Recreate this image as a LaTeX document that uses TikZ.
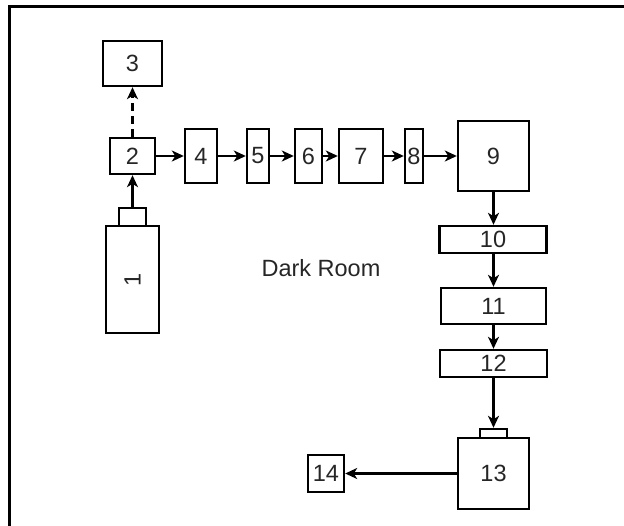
\documentclass[tikz,border=0pt]{standalone}
\usepackage{fontspec}
\setmainfont{Liberation Sans}
\usetikzlibrary{arrows.meta}
\begin{document}
\begin{tikzpicture}[x=1pt,y=-1pt,
  lbl/.style={font=\fontsize{23.5}{23.5}\selectfont,text=black!85},
  blk/.style={lbl,draw=black,line width=2.4pt,fill=white,inner sep=0pt},
  link/.style={line width=2.4pt,-{Stealth[length=12pt,width=11pt,inset=3.5pt]}}]
\useasboundingbox (0,0) rectangle (624,525);
% room outline (continues beyond the top and right)
\draw[line width=2.8pt] (9.3,530) -- (9.3,6.2) -- (630,6.2);
\node[lbl] (room) at (321,268) {Dark Room};
% source
\node[blk,minimum width=53pt,minimum height=107pt] (n1) at (132.5,279.5) {};
\node[lbl,rotate=90] at (n1) {1};
\node[blk,minimum width=27pt,minimum height=18pt] (c1) at (132.5,217) {};
% optical chain
\node[blk,minimum width=45pt,minimum height=36pt] (n2) at (132.5,156) {2};
\node[blk,minimum width=59pt,minimum height=45pt] (n3) at (132.5,63.5) {3};
\node[blk,minimum width=32pt,minimum height=54pt] (n4) at (201,156) {4};
\node[blk,minimum width=22pt,minimum height=54pt] (n5) at (258,156) {5};
\node[blk,minimum width=27pt,minimum height=54pt] (n6) at (308.5,156) {6};
\node[blk,minimum width=44pt,minimum height=54pt] (n7) at (361,156) {7};
\node[blk,minimum width=18pt,minimum height=54pt] (n8) at (414,156) {8};
\node[blk,minimum width=71pt,minimum height=70pt] (n9) at (493.5,156) {9};
\node[blk,minimum width=107pt,minimum height=27pt] (n10) at (493,239.5) {10};
\node[blk,minimum width=105pt,minimum height=36pt] (n11) at (493.5,306) {11};
\node[blk,minimum width=107pt,minimum height=27pt] (n12) at (493.5,363.5) {12};
\node[blk,minimum width=27pt,minimum height=9pt] (c13) at (493.5,433.5) {};
\node[blk,minimum width=71pt,minimum height=71pt] (n13) at (493.5,473.5) {13};
\node[blk,minimum width=36pt,minimum height=37pt] (n14) at (326,473.5) {14};
% connectors
\draw[link] (c1) -- (n2);
\draw[link,dash pattern=on 8pt off 5pt] (n2) -- (n3);
\draw[link] (n2) -- (n4);
\draw[link] (n4) -- (n5);
\draw[link] (n5) -- (n6);
\draw[link] (n6) -- (n7);
\draw[link] (n7) -- (n8);
\draw[link] (n8) -- (n9);
\draw[link] (n9.south) -- (n9.south |- n10.north);
\draw[link] (n10.south -| n9.south) -- (n11);
\draw[link] (n11) -- (n12);
\draw[link] (n12) -- (c13);
\draw[link] (n13) -- (n14);
\end{tikzpicture}
\end{document}
